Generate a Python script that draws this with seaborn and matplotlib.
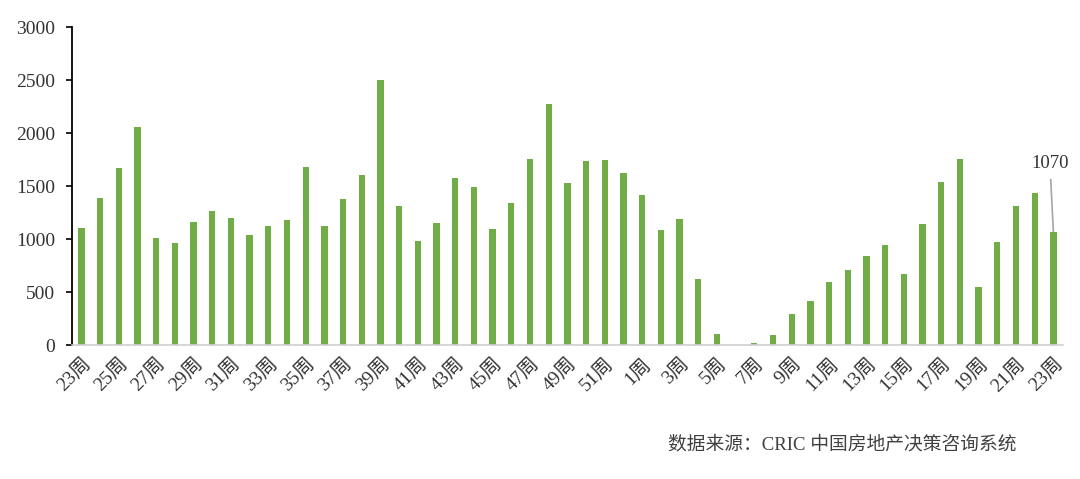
import matplotlib
matplotlib.use("Agg")
import matplotlib.pyplot as plt
import seaborn as sns
import pandas as pd

# ---- data ----
weeks_2021 = ["23周", "24周", "25周", "26周", "27周", "28周", "29周", "30周", "31周", "32周",
              "33周", "34周", "35周", "36周", "37周", "38周", "39周", "40周", "41周", "42周",
              "43周", "44周", "45周", "46周", "47周", "48周", "49周", "50周", "51周", "52周"]
values_2021 = [1105, 1390, 1670, 2055, 1010, 960, 1160, 1265, 1200, 1040,
               1125, 1180, 1680, 1125, 1377, 1601, 2498, 1315, 982, 1149,
               1572, 1490, 1092, 1343, 1751, 2272, 1531, 1735, 1742, 1625]
weeks_2022 = ["1周", "2周", "3周", "4周", "5周", "6周", "7周", "8周", "9周", "10周",
              "11周", "12周", "13周", "14周", "15周", "16周", "17周", "18周", "19周", "20周",
              "21周", "22周", "23周"]
values_2022 = [1415, 1085, 1192, 621, 103, 0, 22, 94, 295, 420,
               596, 706, 838, 947, 671, 1139, 1540, 1757, 546, 973,
               1315, 1434, 1070]
source_text = "数据来源：CRIC 中国房地产决策咨询系统"

labels = weeks_2021 + weeks_2022
values = values_2021 + values_2022
keys = [f"2021-{w}" for w in weeks_2021] + [f"2022-{w}" for w in weeks_2022]
df = pd.DataFrame({"key": keys, "label": labels, "value": values})

# ---- style ----
sns.set_theme(style="white")
plt.rcParams["font.family"] = ["Liberation Serif", "Noto Sans CJK SC", "DejaVu Sans"]

fig = plt.figure(figsize=(10.8, 4.79), dpi=100)
ax = fig.add_axes([0.0667, 0.2797, 0.9173, 0.6639])

sns.barplot(data=df, x="key", y="value", order=keys, color="#70AD47",
            saturation=1, width=0.34, linewidth=0, ax=ax)

ax.set_ylim(0, 3000)
ax.set_yticks([0, 500, 1000, 1500, 2000, 2500, 3000])
ax.set_xlim(-0.5, len(keys) - 0.5)
tick_pos = list(range(0, len(keys), 2))
ax.set_xticks(tick_pos)
ax.set_xticklabels([labels[i] for i in tick_pos], rotation=45, ha="right",
                   rotation_mode="anchor", fontsize=14, color="#333333")
ax.tick_params(axis="x", length=0, pad=7)
ax.tick_params(axis="y", length=4, width=1.2, direction="out", colors="#000000",
               labelsize=14, labelcolor="#333333", pad=8, left=True)
ax.set_xlabel("")
ax.set_ylabel("")

for s in ["top", "right"]:
    ax.spines[s].set_visible(False)
ax.spines["left"].set_color("#000000")
ax.spines["left"].set_linewidth(1.3)
ax.spines["bottom"].set_color("#D0D0D0")
ax.spines["bottom"].set_linewidth(1.2)

# annotation on last bar
last = len(values) - 1
ax.annotate(f"{values[last]}", xy=(last, values[last]), xytext=(-2.5, 49),
            textcoords="offset points", ha="center", va="center",
            fontsize=13.5, color="#333333",
            arrowprops=dict(arrowstyle="-", color="#A6A6A6", lw=1.2,
                            shrinkA=3, shrinkB=0))

fig.text(0.6185, 0.072, source_text, fontsize=13.5, color="#404040",
         ha="left", va="center")

fig.savefig("out.png", dpi=100)
